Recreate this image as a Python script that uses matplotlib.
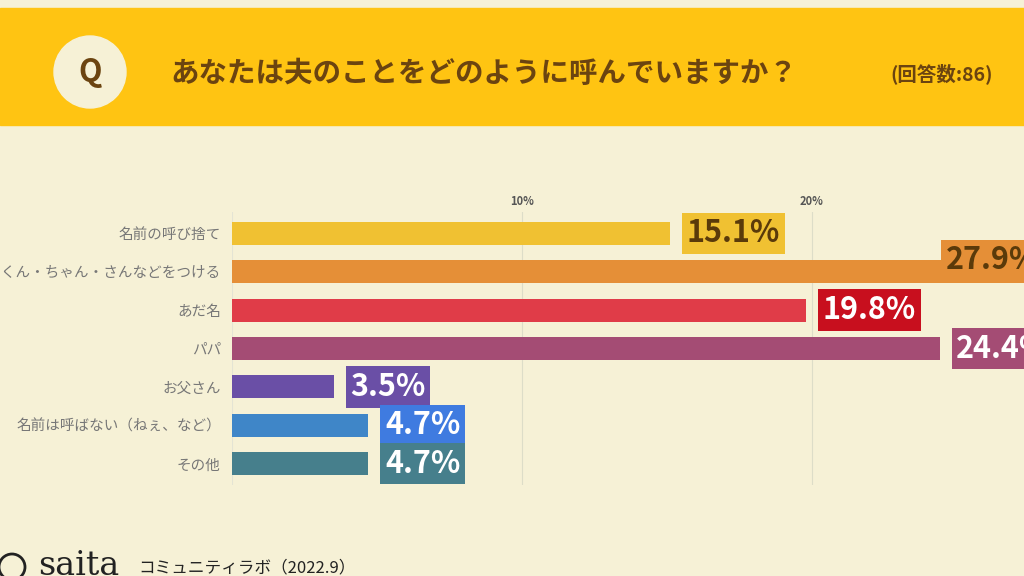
import matplotlib.pyplot as plt
from matplotlib.patches import Rectangle, Circle

plt.rcParams['font.family'] = ['Noto Sans CJK JP', 'DejaVu Sans']

categories = ["名前の呼び捨て", "名前にくん・ちゃん・さんなどをつける", "あだ名", "パパ",
              "お父さん", "名前は呼ばない（ねぇ、など）", "その他"]
values = [15.1, 27.9, 19.8, 24.4, 3.5, 4.7, 4.7]
bar_colors = ["#F0C132", "#E58F37", "#E03C48", "#A44C74", "#6A4FA6", "#3F86C8", "#467F8C"]
box_colors = ["#F0C132", "#E58F37", "#C80F1E", "#A44C74", "#6A4FA6", "#3F7BE0", "#467F8C"]
text_colors = ["#5A3A0A", "#5A3A0A", "white", "white", "white", "white", "white"]
ticks = [10, 20]

bg = "#F6F1D6"
fig = plt.figure(figsize=(10.24, 5.76), dpi=100, facecolor=bg)

# header band and footer
hdr = fig.add_axes([0, 0, 1, 1], facecolor="none")
hdr.set_xlim(0, 1024)
hdr.set_ylim(576, 0)
hdr.axis("off")
hdr.add_patch(Rectangle((0, 8), 1024, 117, color="#FFC412", zorder=0))
hdr.add_patch(Circle((90, 72), 36, color="#F6F1D6", zorder=1))
hdr.text(90, 72, "Q", ha="center", va="center", fontsize=22, fontweight="bold", color="#6B4410")
hdr.text(170, 74, "あなたは夫のことをどのように呼んでいますか？", ha="left", va="center",
         fontsize=20.5, fontweight="bold", color="#6B4410")
hdr.text(890, 74, "(回答数:86)", ha="left", va="center", fontsize=14, fontweight="bold",
         color="#6B4410")
hdr.text(38, 566, "saita", ha="left", va="center", fontsize=24, color="#222222",
         family="DejaVu Serif")
hdr.text(138, 568, "コミュニティラボ（2022.9）", ha="left", va="center", fontsize=12,
         color="#222222")
hdr.add_patch(Circle((12, 567), 13, fill=False, ec="#222222", lw=2))

ax = fig.add_axes([232 / 1024, 1 - 485 / 576, 1 - 232 / 1024, 273 / 576], facecolor="none")
y = list(range(len(categories)))
ax.barh(y, values, height=0.6, color=bar_colors)
xmax = (1024 - 232) / 29
ax.set_xlim(0, xmax)
ax.set_ylim(len(categories) - 0.45, -0.55)
ax.set_yticks(y)
ax.set_yticklabels(categories, fontsize=10.5, color="#777777")
ax.xaxis.tick_top()
ax.set_xticks(ticks)
ax.set_xticklabels([f"{t}%" for t in ticks], fontsize=8, fontweight="bold", color="#555555")
ax.tick_params(length=0, pad=3)
ax.tick_params(axis="y", pad=8)
ax.grid(axis="x", color="#DDDDC8", lw=0.8)
ax.set_axisbelow(True)
for s in ax.spines.values():
    s.set_visible(False)
ax.axvline(0, color="#E4E4D4", lw=0.8, zorder=0)

for i, v in enumerate(values):
    if v > xmax:
        # label pushed inside the visible area, sitting above the bar
        pos, off = (xmax - 2.7, i), (0, 8)
    else:
        pos, off = (v, i), (12, 0)
    ax.annotate(f"{v}%", pos, xytext=off, textcoords="offset points",
                ha="left", va="center", fontsize=22, fontweight="bold", color=text_colors[i],
                annotation_clip=False,
                bbox=dict(boxstyle="square,pad=0.15", fc=box_colors[i], ec="none"))

fig.savefig("out.png", dpi=100, facecolor=bg)
